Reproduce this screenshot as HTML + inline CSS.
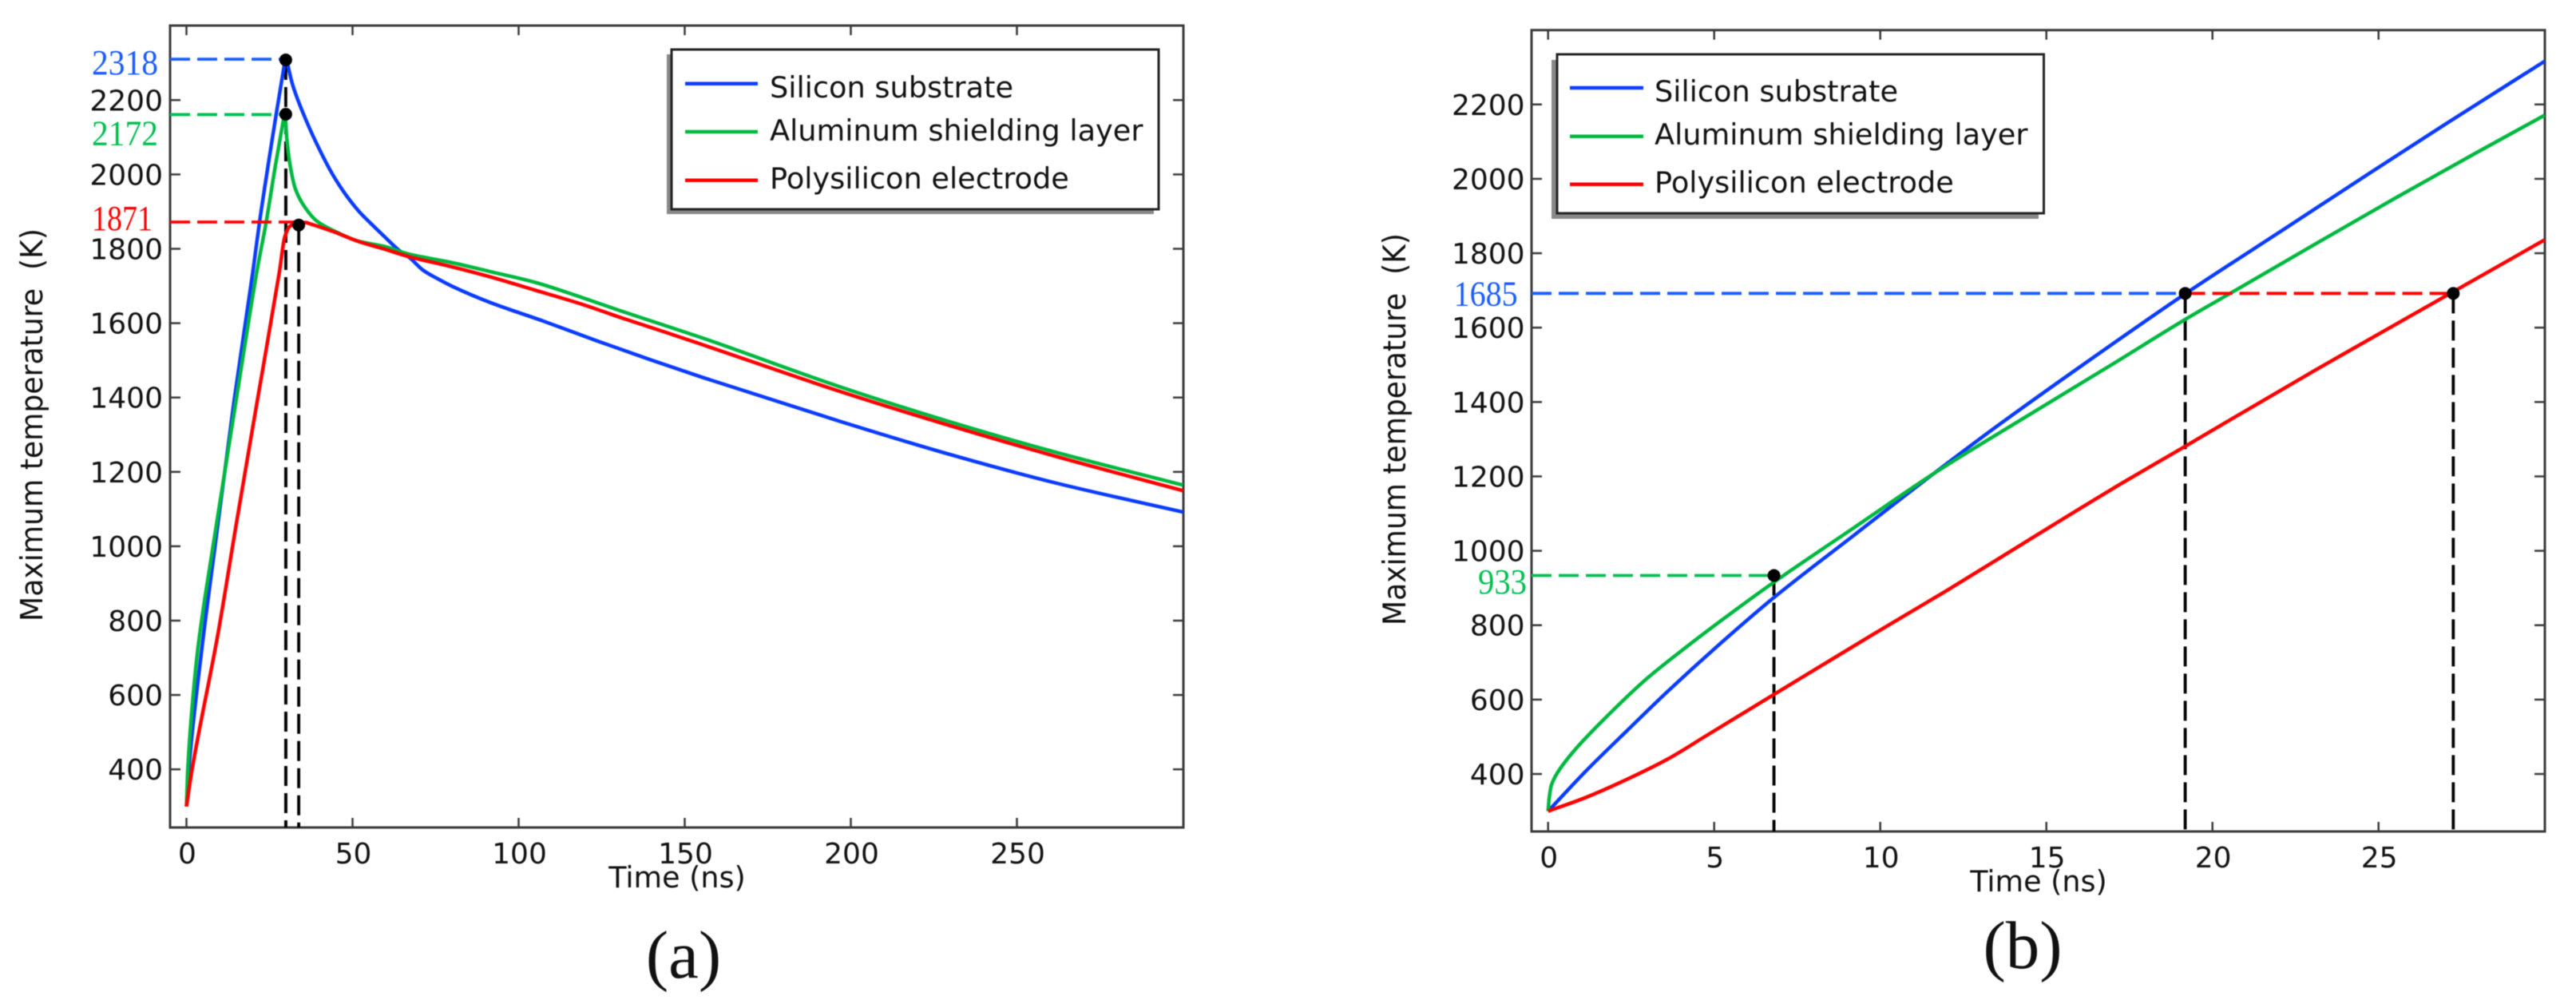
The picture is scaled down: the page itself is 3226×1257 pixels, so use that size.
<!DOCTYPE html>
<html lang="en">
<head>
<meta charset="utf-8">
<title>Maximum temperature versus time</title>
<style>
  html, body { margin: 0; padding: 0; background: #ffffff; }
  body { width: 3226px; height: 1257px; overflow: hidden; }
  svg { display: block; filter: blur(0.6px); }
  .tick-label { font-family: "DejaVu Sans", sans-serif; font-size: 36px; fill: #111111; }
  .axis-title { font-family: "DejaVu Sans", sans-serif; fill: #111111; }
  .legend-text { font-family: "DejaVu Sans", sans-serif; font-size: 36.7px; fill: #111111; }
  .note { font-family: "Liberation Serif", serif; font-size: 44px; }
  .caption { font-family: "Liberation Serif", serif; font-size: 85px; fill: #111111; }
</style>
</head>
<body>
<svg id="figure" xmlns="http://www.w3.org/2000/svg" width="3226" height="1257" viewBox="0 0 3226 1257">
  <rect x="0" y="0" width="3226" height="1257" fill="#ffffff"/>
  <g id="panel-a"></g>
  <g id="panel-b"></g>

  <g>
    <rect x="835" y="68" width="610" height="200" fill="#888888"/>
    <rect x="841" y="62" width="610" height="200" fill="#ffffff" stroke="#222222" stroke-width="3"/>
    <line x1="858" x2="949" y1="104.7" y2="104.7" stroke="#0a3cff" stroke-width="4.5"/>
    <line x1="858" x2="949" y1="165" y2="165" stroke="#00b83f" stroke-width="4.5"/>
    <line x1="858" x2="949" y1="225.7" y2="225.7" stroke="#ff0000" stroke-width="4.5"/>
    <text class="legend-text" x="964" y="122">Silicon substrate</text>
    <text class="legend-text" x="964" y="176">Aluminum shielding layer</text>
    <text class="legend-text" x="964" y="236">Polysilicon electrode</text>
  </g>

  <g>
    <rect x="1943" y="75" width="610" height="199" fill="#888888"/>
    <rect x="1950" y="68" width="609.5" height="199" fill="#ffffff" stroke="#222222" stroke-width="3"/>
    <line x1="1966" x2="2058" y1="110" y2="110" stroke="#0a3cff" stroke-width="4.5"/>
    <line x1="1966" x2="2058" y1="170.7" y2="170.7" stroke="#00b83f" stroke-width="4.5"/>
    <line x1="1966" x2="2058" y1="230.7" y2="230.7" stroke="#ff0000" stroke-width="4.5"/>
    <text class="legend-text" x="2072" y="127">Silicon substrate</text>
    <text class="legend-text" x="2072" y="181">Aluminum shielding layer</text>
    <text class="legend-text" x="2072" y="241">Polysilicon electrode</text>
  </g>

  <text class="axis-title" font-size="36.5" x="848" y="1111" text-anchor="middle">Time (ns)</text>
  <text class="axis-title" font-size="36.5" x="2553" y="1116" text-anchor="middle">Time (ns)</text>
  <text class="axis-title" font-size="38" textLength="492" lengthAdjust="spacingAndGlyphs" xml:space="preserve" transform="translate(53,778) rotate(-90)">Maximum temperature  (K)</text>
  <text class="axis-title" font-size="39" textLength="491" lengthAdjust="spacingAndGlyphs" xml:space="preserve" transform="translate(1760,783) rotate(-90)">Maximum temperature  (K)</text>

  <text class="caption" x="856" y="1224" text-anchor="middle">(a)</text>
  <text class="caption" x="2533" y="1212" text-anchor="middle">(b)</text>
</svg>

<script>
// ---------- shared tick values ----------
const tempTicks = [400, 600, 800, 1000, 1200, 1400, 1600, 1800, 2000, 2200];
const timeTicksA = [0, 50, 100, 150, 200, 250];
const timeTicksB = [0, 5, 10, 15, 20, 25];

// ---------- panel (a) series ----------
const siliconTimeA = [0, 0.7, 4.7, 8.6, 14.4, 20, 22, 27, 29.9, 32, 36, 40, 44, 48, 52, 56, 59.3, 64, 67.3, 71.3, 75.3, 80.5, 91.3, 107.3, 123.4, 139.4, 155.4, 196.7, 229.4, 262, 300];
const siliconTempA = [300, 400, 729, 1000, 1395, 1739, 1872, 2161, 2318, 2240, 2146, 2068, 2000, 1945, 1900, 1864, 1835.5, 1796, 1775, 1742, 1721, 1697, 1656, 1606, 1553, 1502.5, 1454, 1336, 1248, 1169.5, 1092];
const aluminumTimeA = [0, 0.4, 1.5, 3.5, 8, 15, 21.2, 24, 26.8, 29.7, 30.2, 31.2, 32.8, 35.2, 39.2, 44, 52, 59.3, 67.3, 79.3, 91.3, 104.9, 119.4, 131.4, 143.4, 155.4, 196.7, 229.4, 262, 300];
const aluminumTempA = [300, 400, 545, 729, 1000, 1395, 1739, 1872, 2025, 2172, 2097, 2025, 1961, 1918, 1875, 1850, 1820, 1807, 1785, 1764, 1739, 1710, 1668, 1631, 1595.6, 1560, 1429, 1336, 1252, 1164.5];
const polyTimeA = [0, 1.6, 9.5, 15, 21.4, 28, 29.6, 31.2, 33, 36, 44, 52, 59.3, 67.3, 79.3, 91.3, 104.9, 119.4, 131.4, 143.4, 155.4, 196.7, 229.4, 262, 300];
const polyTempA = [300, 395, 765, 1060, 1395, 1739, 1832, 1861, 1868, 1871, 1847, 1819, 1800, 1778, 1753, 1725, 1689, 1650, 1613, 1578, 1542, 1416.5, 1325.6, 1241, 1149.5];

// ---------- panel (a) annotations ----------
const markerTimeA = [29.9, 29.9, 33.8];
const markerTempA = [2308, 2162, 1864];
const guideTempA = [2310, 2161, 1872];
const printedValuesA = ['2318', '2172', '1871'];

// ---------- panel (b) series ----------
const siliconTimeB = [0, 1.14, 2.36, 3.6, 5, 6.78, 9.24, 11.38, 13.53, 16.1, 19.1, 22.3, 24.71, 27.1, 30];
const siliconTempB = [300, 408, 515, 622, 736, 873, 1044, 1192, 1336, 1500, 1686, 1873, 2014, 2152, 2316];
const aluminumTimeB = [0, 0.036, 0.1, 0.28, 0.77, 1.75, 2.98, 4.2, 5.43, 6.78, 9.24, 11.72, 14.38, 16.96, 19.18, 20.7, 23.1, 25.5, 27.9, 30];
const aluminumTempB = [300, 337, 370, 403, 461, 553, 657, 744, 827, 914.5, 1064, 1214, 1360, 1500, 1622, 1700.6, 1825, 1948, 2068, 2171];
const polyTimeB = [0, 1.14, 2.36, 3.6, 4.8, 6.78, 9.72, 11.98, 14.38, 16.96, 19.2, 23.1, 27.24, 30];
const polyTempB = [300, 337, 385, 440, 505, 612.7, 772, 892, 1024, 1165, 1282, 1486, 1696, 1836];

// ---------- panel (b) annotations ----------
const markerTimeB = [6.8, 19.18, 27.25];
const markerTempB = [933.6, 1692, 1692];
const printedValuesB = ['933', '1685'];

// ---------- axis functions ----------
const SVGNS = 'http://www.w3.org/2000/svg';
const xA = t => 233.5 + 4.16 * t;
const yA = T => 1149.4 - 0.4655 * T;
const xB = t => 1938.7 + 41.6 * t;
const yB = T => 1155.3 - 0.4657 * T;

const COLORS = { silicon: '#0a3cff', aluminum: '#00b83f', poly: '#ff0000' };
const NOTE_COLORS = { silicon: '#1a5cff', aluminum: '#00c050', poly: '#ff0000' };
const AXIS_COLOR = '#3a3a3a';

function make(parent, tag, attrs, text) {
  const node = document.createElementNS(SVGNS, tag);
  for (const k in attrs) node.setAttribute(k, attrs[k]);
  if (text !== undefined) node.textContent = text;
  parent.appendChild(node);
  return node;
}

// Smooth monotone path through the points, keeping sharp corners at peaks.
function curvePath(px, py) {
  const n = px.length;
  const d = [];
  for (let i = 0; i < n - 1; i++) d.push((py[i + 1] - py[i]) / (px[i + 1] - px[i]));
  let path = 'M' + px[0].toFixed(2) + ' ' + py[0].toFixed(2);
  const tangent = (i, segSlope) => {
    if (i === 0 || i === n - 1) return segSlope;
    if (d[i - 1] * d[i] <= 0) return segSlope;
    return 2 * d[i - 1] * d[i] / (d[i - 1] + d[i]);
  };
  for (let i = 0; i < n - 1; i++) {
    const h = px[i + 1] - px[i];
    const m0 = tangent(i, d[i]);
    const m1 = tangent(i + 1, d[i]);
    path += 'C' + (px[i] + h / 3).toFixed(2) + ' ' + (py[i] + m0 * h / 3).toFixed(2) + ' ' +
      (px[i + 1] - h / 3).toFixed(2) + ' ' + (py[i + 1] - m1 * h / 3).toFixed(2) + ' ' +
      px[i + 1].toFixed(2) + ' ' + py[i + 1].toFixed(2);
  }
  return path;
}

function drawFrame(g, prefix, box, xFn, yFn, xTicks, yTicks, xBase, labelRight) {
  xTicks.forEach(v => {
    const px = xFn(v);
    const bottomTick = make(g, 'line', { x1: px, x2: px, y1: box.bottom, y2: box.bottom - 12, stroke: AXIS_COLOR, 'stroke-width': 2.5 });
    
    
    const topTick = make(g, 'line', { x1: px, x2: px, y1: box.top, y2: box.top + 12, stroke: AXIS_COLOR, 'stroke-width': 2.5 });
    
    
    const xLabel = make(g, 'text', { class: 'tick-label', x: px + 1, y: xBase, 'text-anchor': 'middle' }, String(v));
    
    
  });
  yTicks.forEach(v => {
    const py = yFn(v);
    const leftTick = make(g, 'line', { x1: box.left, x2: box.left + 13, y1: py, y2: py, stroke: AXIS_COLOR, 'stroke-width': 2.5 });
    
    
    const rightTick = make(g, 'line', { x1: box.right, x2: box.right - 13, y1: py, y2: py, stroke: AXIS_COLOR, 'stroke-width': 2.5 });
    
    
    const yLabel = make(g, 'text', { class: 'tick-label', x: labelRight, y: py + 13, 'text-anchor': 'end' }, String(v));
    
    
  });
  const frame = make(g, 'rect', { x: box.left, y: box.top, width: box.right - box.left, height: box.bottom - box.top, fill: 'none', stroke: AXIS_COLOR, 'stroke-width': 3 });
  
  
}

function drawSeries(g, name, times, temps, xFn, yFn, color) {
  const d = curvePath(times.map(xFn), temps.map(yFn));
  const line = make(g, 'path', { d, fill: 'none', stroke: color, 'stroke-width': 4.5, 'stroke-linejoin': 'round', 'stroke-linecap': 'butt' });
  
  
}

function drawDash(g, name, x1, y1, x2, y2, color) {
  const dash = make(g, 'line', { x1, y1, x2, y2, stroke: color, 'stroke-width': 3.8, 'stroke-dasharray': '25 9' });
  
  
}

function drawDot(g, name, px, py) {
  const dot = make(g, 'circle', { cx: px, cy: py, r: 8, fill: '#000000' });
  
  
}

function drawNote(g, name, px, py, color, value, width) {
  const note = make(g, 'text', { class: 'note', x: px, y: py, fill: color, textLength: width, lengthAdjust: 'spacingAndGlyphs' }, value);
  
  
}

// ---------- panel (a) ----------
(function () {
  const g = document.getElementById('panel-a');
  const box = { left: 213, right: 1482, top: 32, bottom: 1036 };
  drawFrame(g, 'panel-a', box, xA, yA, timeTicksA, tempTicks, 1081, 204);

  const keys = ['silicon', 'aluminum', 'poly'];
  markerTimeA.forEach((t, i) => {
    drawDash(g, 'panel-a-vertical-guide-' + keys[i], xA(t), yA(markerTempA[i]), xA(t), box.bottom, '#000000');
  });
  drawSeries(g, 'panel-a-silicon-curve', siliconTimeA, siliconTempA, xA, yA, COLORS.silicon);
  drawSeries(g, 'panel-a-aluminum-curve', aluminumTimeA, aluminumTempA, xA, yA, COLORS.aluminum);
  drawSeries(g, 'panel-a-polysilicon-curve', polyTimeA, polyTempA, xA, yA, COLORS.poly);

  markerTimeA.forEach((t, i) => {
    drawDash(g, 'panel-a-horizontal-guide-' + keys[i], box.left, yA(guideTempA[i]), xA(t), yA(guideTempA[i]), NOTE_COLORS[keys[i]]);
    drawDot(g, 'panel-a-marker-' + keys[i], xA(t), yA(markerTempA[i]));
  });
  const noteBase = [93, 181.7, 288];
  const noteWidth = [83, 83, 76];
  printedValuesA.forEach((value, i) => {
    drawNote(g, 'panel-a-value-' + keys[i], 115, noteBase[i], NOTE_COLORS[keys[i]], value, noteWidth[i]);
  });
})();

// ---------- panel (b) ----------
(function () {
  const g = document.getElementById('panel-b');
  const box = { left: 1918, right: 3187, top: 37.7, bottom: 1041 };
  drawFrame(g, 'panel-b', box, xB, yB, timeTicksB, tempTicks, 1086, 1909.6);

  const keys = ['aluminum', 'silicon', 'poly'];
  markerTimeB.forEach((t, i) => {
    drawDash(g, 'panel-b-vertical-guide-' + keys[i], xB(t), yB(markerTempB[i]), xB(t), box.bottom, '#000000');
  });
  drawSeries(g, 'panel-b-silicon-curve', siliconTimeB, siliconTempB, xB, yB, COLORS.silicon);
  drawSeries(g, 'panel-b-aluminum-curve', aluminumTimeB, aluminumTempB, xB, yB, COLORS.aluminum);
  drawSeries(g, 'panel-b-polysilicon-curve', polyTimeB, polyTempB, xB, yB, COLORS.poly);

  drawDash(g, 'panel-b-horizontal-guide-aluminum', box.left, yB(markerTempB[0]), xB(markerTimeB[0]), yB(markerTempB[0]), NOTE_COLORS.aluminum);
  drawDash(g, 'panel-b-horizontal-guide-silicon', box.left, yB(markerTempB[1]), xB(markerTimeB[1]), yB(markerTempB[1]), NOTE_COLORS.silicon);
  drawDash(g, 'panel-b-horizontal-guide-polysilicon', xB(markerTimeB[1]), yB(markerTempB[2]), xB(markerTimeB[2]), yB(markerTempB[2]), NOTE_COLORS.poly);
  markerTimeB.forEach((t, i) => {
    drawDot(g, 'panel-b-marker-' + keys[i], xB(t), yB(markerTempB[i]));
  });
  drawNote(g, 'panel-b-value-aluminum', 1851, 743, NOTE_COLORS.aluminum, printedValuesB[0], 61);
  drawNote(g, 'panel-b-value-silicon', 1820.6, 382.7, NOTE_COLORS.silicon, printedValuesB[1], 80);
})();
</script>
</body>
</html>
